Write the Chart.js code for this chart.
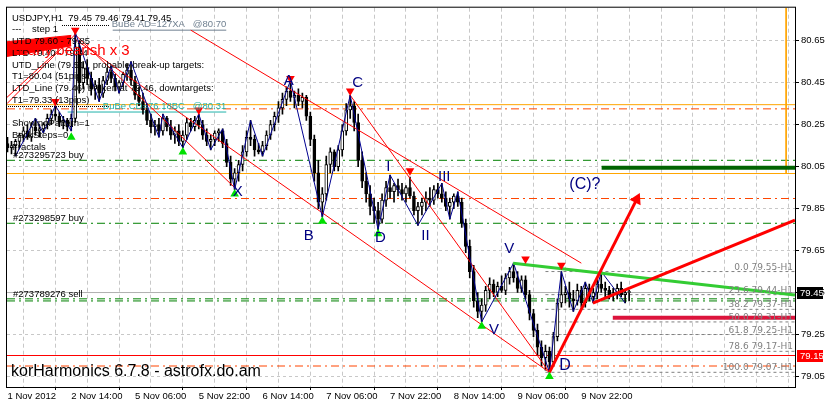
<!DOCTYPE html>
<html lang="en">
<head>
<meta charset="UTF-8">
<title>USDJPY H1</title>
<style>
  body { margin: 0; background: #fff; }
  #wrap { width: 837px; height: 407px; }
</style>
</head>
<body>
<div id="wrap"><canvas id="chart" width="837" height="407"></canvas></div>
<script src="https://cdn.jsdelivr.net/npm/chart.js@4.4.1/dist/chart.umd.min.js"></script>
<script>
// H1 bars, [open, high, low, close]
const candles = [
  [80.16,80.19,80.12,80.14],[80.14,80.17,80.11,80.15],[80.15,80.18,80.10,80.17],[80.17,80.21,80.14,80.20],
  [80.20,80.24,80.17,80.22],[80.22,80.25,80.18,80.19],[80.19,80.26,80.17,80.24],[80.24,80.28,80.20,80.22],
  [80.22,80.25,80.19,80.23],[80.23,80.26,80.21,80.25],[80.25,80.30,80.23,80.28],[80.28,80.32,80.25,80.30],
  [80.30,80.34,80.27,80.29],[80.29,80.31,80.24,80.26],[80.26,80.29,80.23,80.27],[80.27,80.28,80.22,80.24],
  [80.24,80.30,80.22,80.28],[80.28,80.69,80.26,80.62],[80.62,80.65,80.40,80.45],[80.45,80.55,80.42,80.52],
  [80.52,80.56,80.44,80.47],[80.47,80.50,80.39,80.42],[80.42,80.46,80.37,80.44],[80.44,80.47,80.36,80.40],
  [80.40,80.48,80.38,80.46],[80.46,80.52,80.44,80.50],[80.50,80.53,80.45,80.47],[80.47,80.49,80.41,80.43],
  [80.43,80.46,80.40,80.45],[80.45,80.50,80.43,80.49],[80.49,80.54,80.46,80.51],[80.51,80.55,80.44,80.46],
  [80.46,80.48,80.37,80.39],[80.39,80.43,80.34,80.36],[80.36,80.40,80.30,80.32],[80.32,80.35,80.25,80.27],
  [80.27,80.30,80.21,80.24],[80.24,80.27,80.20,80.25],[80.25,80.28,80.19,80.22],[80.22,80.30,80.20,80.28],
  [80.28,80.29,80.22,80.24],[80.24,80.27,80.18,80.20],[80.20,80.24,80.16,80.22],[80.22,80.25,80.15,80.17],
  [80.17,80.22,80.14,80.20],[80.20,80.28,80.18,80.26],[80.26,80.28,80.22,80.24],[80.24,80.29,80.22,80.27],
  [80.27,80.30,80.23,80.25],[80.25,80.27,80.18,80.20],[80.20,80.23,80.15,80.17],[80.17,80.20,80.13,80.18],
  [80.18,80.22,80.15,80.21],[80.21,80.23,80.17,80.22],[80.22,80.23,80.14,80.16],[80.16,80.18,80.05,80.07],
  [80.07,80.10,79.96,79.99],[79.99,80.04,79.94,80.02],[80.02,80.08,79.98,80.06],[80.06,80.15,80.03,80.12],
  [80.12,80.22,80.10,80.19],[80.19,80.27,80.15,80.18],[80.18,80.20,80.10,80.13],[80.13,80.16,80.11,80.12],
  [80.12,80.17,80.10,80.15],[80.15,80.22,80.13,80.20],[80.20,80.27,80.18,80.25],[80.25,80.31,80.22,80.29],
  [80.29,80.36,80.26,80.33],[80.33,80.40,80.30,80.37],[80.37,80.43,80.34,80.41],[80.41,80.46,80.36,80.38],
  [80.38,80.41,80.33,80.39],[80.39,80.42,80.34,80.36],[80.36,80.40,80.33,80.38],[80.38,80.39,80.27,80.29],
  [80.29,80.31,80.15,80.18],[80.18,80.20,79.98,80.02],[80.02,80.08,79.85,79.88],[79.88,79.95,79.81,79.92],
  [79.92,80.10,79.89,80.06],[80.06,80.14,80.02,80.12],[80.12,80.13,80.03,80.05],[80.05,80.15,80.03,80.13],
  [80.13,80.25,80.10,80.22],[80.22,80.35,80.20,80.32],[80.32,80.39,80.28,80.34],[80.34,80.36,80.22,80.26],
  [80.26,80.30,80.05,80.08],[80.08,80.12,79.95,79.98],[79.98,80.02,79.88,79.92],[79.92,79.96,79.82,79.86],
  [79.86,79.90,79.78,79.84],[79.84,79.88,79.75,79.80],[79.80,79.92,79.78,79.89],[79.89,79.98,79.86,79.95],
  [79.95,80.01,79.90,79.93],[79.93,79.97,79.88,79.96],[79.96,79.99,79.91,79.94],[79.94,79.97,79.89,79.92],
  [79.92,79.96,79.88,79.95],[79.95,80.00,79.90,79.91],[79.91,79.93,79.82,79.84],[79.84,79.88,79.77,79.86],
  [79.86,79.90,79.82,79.88],[79.88,79.93,79.84,79.90],[79.90,79.95,79.86,79.89],[79.89,79.96,79.87,79.94],
  [79.94,79.97,79.90,79.92],[79.92,79.97,79.88,79.90],[79.90,79.93,79.84,79.86],[79.86,79.90,79.80,79.88],
  [79.88,79.92,79.85,79.91],[79.91,79.93,79.86,79.88],[79.88,79.90,79.76,79.78],[79.78,79.80,79.64,79.67],
  [79.67,79.70,79.52,79.55],[79.55,79.58,79.38,79.41],[79.41,79.45,79.33,79.36],[79.36,79.42,79.31,79.39],
  [79.39,79.48,79.36,79.46],[79.46,79.52,79.42,79.49],[79.49,79.51,79.43,79.45],[79.45,79.50,79.43,79.48],
  [79.48,79.53,79.45,79.46],[79.46,79.54,79.44,79.52],[79.52,79.57,79.49,79.55],[79.55,79.59,79.50,79.52],
  [79.52,79.55,79.45,79.47],[79.47,79.53,79.45,79.51],[79.51,79.53,79.42,79.44],[79.44,79.46,79.32,79.35],
  [79.35,79.37,79.24,79.27],[79.27,79.30,79.15,79.19],[79.19,79.22,79.10,79.14],[79.14,79.20,79.08,79.17],
  [79.17,79.19,79.07,79.12],[79.12,79.26,79.10,79.24],[79.24,79.42,79.22,79.40],[79.40,79.55,79.38,79.44],
  [79.44,79.48,79.40,79.45],[79.45,79.50,79.38,79.42],[79.42,79.46,79.36,79.41],[79.41,79.49,79.39,79.46],
  [79.46,79.48,79.38,79.40],[79.40,79.50,79.38,79.47],[79.47,79.49,79.41,79.43],[79.43,79.47,79.40,79.45],
  [79.45,79.52,79.42,79.49],[79.49,79.55,79.45,79.47],[79.47,79.50,79.43,79.46],[79.46,79.48,79.42,79.44],
  [79.44,79.47,79.41,79.45],[79.45,79.49,79.42,79.47],[79.47,79.50,79.43,79.44],[79.44,79.46,79.40,79.45],
  [79.45,79.46,79.41,79.45]
];

// one label every 16 bars
const timeLabels = ['1 Nov 2012', '2 Nov 14:00', '5 Nov 06:00', '5 Nov 22:00', '6 Nov 14:00',
                    '7 Nov 06:00', '7 Nov 22:00', '8 Nov 14:00', '9 Nov 06:00', '9 Nov 22:00'];
const priceTicks = [79.05, 79.25, 79.45, 79.65, 79.85, 80.05, 80.25, 80.45, 80.65];

// zigzag pivots [bar, price]
const zigzag = [[2,80.10],[7,80.28],[9,80.21],[12,80.34],[16,80.22],[17,80.69],[23,80.36],[26,80.53],
  [28,80.40],[31,80.55],[38,80.19],[39,80.30],[44,80.14],[48,80.30],[51,80.13],[54,80.23],[57,79.94],
  [61,80.27],[64,80.10],[71,80.46],[79,79.81],[86,80.39],[93,79.75],[96,80.01],[103,79.77],[109,79.97],
  [111,79.80],[113,79.93],[119,79.31],[127,79.59],[136,79.07],[139,79.55],[142,79.36],[145,79.50],
  [147,79.40],[149,79.55],[155,79.40]];

// horizontal levels
const orangeLevels = [80.345, 80.017];
const redDashLevels = [80.325, 79.898, 79.10];
const greenDashLevels = [80.08, 79.78, 79.42, 79.41];
const fibNames = ['0.0', '23.6', '38.2', '50.0', '61.8', '78.6', '100.0'];
const fibLevels = [79.55, 79.44, 79.37, 79.31, 79.25, 79.17, 79.07];
const bidPrice = 79.45;
const stopPrice = 79.15;
const targetPrice = 80.044;
const t1Price = 79.33;
const orderTags = ['#273295723 buy', '#273298597 buy', '#273789276 sell'];
const orderLevels = [80.08, 79.78, 79.42];
const bubeTags = ['BuBe AD=127XA   @80.70', 'BuBe CD=76.18BC   @80.31'];
const bubeLevels = [80.70, 80.31];

// trend lines [bar, price]
const redLines = [
  [[46,80.70],[144,79.59]],
  [[86,80.39],[136,79.07]],
  [[17,80.656],[136,79.07]],
  [[17,80.678],[57,79.95]],
  [[-0.125,80.35],[17,80.68]],
  [[-0.125,80.38],[12.5,80.60]]
];
const redFanTop = [[-0.125,80.645],[16,80.675]];
const redFanBottom = [[-0.125,80.575],[16,80.625]];
const arrowLine = [[136,79.07],[157.9,79.894]];
const riseLine = [[146.9,79.40],[197.6,79.795]];
const greenTrend = [[126.9,79.59],[197.6,79.438]];
const redDown = [[12,80.36],[17,80.70],[48,80.32],[71,80.47],[86,80.41],[101,80.03],[130,79.61],[139,79.58]];
const greenUp = [[16,80.19],[44,80.12],[57,79.92],[79,79.79],[93,79.73],[119,79.29],[136,79.05]];

const waveLabels = [['A',70.6,80.46],['B',75.6,79.72],['C',87.9,80.45],['D',93.6,79.71],['X',57.8,79.93],
  ['I',95.6,80.05],['II',104.9,79.72],['III',109.6,80.00],['V',125.9,79.66],['V',122.1,79.27]];
const bigLabels = [['(C)?',144.9,79.965],['D',139.9,79.10]];

const last = candles[candles.length - 1];
const infoLines = [
  'USDJPY,H1  ' + last.map(v => v.toFixed(2)).join(' '),
  '---    step 1',
  'UTD 79.60 - 79.85',
  'LTD 79.40 - 79.34',
  'UTD_Line (79.51), probable break-up targets:',
  'T1=80.04 (51pips)',
  'LTD_Line (79.46) broken at 79.46, downtargets:',
  'T1=79.33 (13pips)',
  '',
  'ShowingPattern=1',
  'BackSteps=0',
  'Fractals'
];

const xMin = -0.125, xMax = 197.625;
const pts = arr => arr.map(([x, y]) => ({ x, y }));

function lineSet(points, color, width, dash, order, extra) {
  return Object.assign({
    type: 'line', data: pts(points), borderColor: color, borderWidth: width,
    borderDash: dash || [], pointRadius: 0, fill: false, tension: 0, order
  }, extra || {});
}
const hLine = (lvl, color, width, dash, order, from) =>
  lineSet([[from === undefined ? xMin : from, lvl], [xMax, lvl]], color, width, dash, order);

const dashDot = [8, 4, 2, 4];
const datasets = [];

// red fan block (top left)
datasets.push(lineSet(redFanBottom, '#ff0000', 1, [], 3, { fill: '+1', backgroundColor: '#ff0000' }));
datasets.push(lineSet(redFanTop, '#ff0000', 1, [], 3));

// markers
datasets.push(lineSet(redDown, '#ff0000', 0, [], 1, {
  showLine: false, pointRadius: 5, pointStyle: 'triangle', pointRotation: 180,
  pointBackgroundColor: '#ff0000', pointBorderColor: '#ff0000'
}));
datasets.push(lineSet(greenUp, '#00e000', 0, [], 1, {
  showLine: false, pointRadius: 5, pointStyle: 'triangle',
  pointBackgroundColor: '#00e000', pointBorderColor: '#00e000'
}));

// thick lines
datasets.push(lineSet(arrowLine, '#ff0000', 3, [], 1));
datasets.push(lineSet([arrowLine[1]], '#ff0000', 0, [], 1, {
  showLine: false, pointRadius: 7, pointStyle: 'triangle', pointRotation: 26.6,
  pointBackgroundColor: '#ff0000', pointBorderColor: '#ff0000'
}));
datasets.push(lineSet(riseLine, '#ff0000', 3, [], 1));
datasets.push(lineSet(greenTrend, '#33cc33', 3, [], 1));
datasets.push(hLine(targetPrice, '#006400', 4, [], 1, 149.1));
datasets.push(hLine(t1Price, '#dc143c', 4, [], 1, 151.9));

// zigzag and channels
datasets.push(lineSet(zigzag, '#000090', 1, [], 2));
redLines.forEach(l => datasets.push(lineSet(l, '#ff0000', 1, [], 2)));

// candles
datasets.push({
  type: 'bar', order: 4, grouped: false, barThickness: 3, minBarLength: 1,
  data: candles.map((c, i) => ({ x: i, y: [c[0], c[3]] })),
  backgroundColor: candles.map(c => c[3] >= c[0] ? '#ffffff' : '#000000'),
  borderColor: '#000000', borderWidth: 1, borderSkipped: false
});
datasets.push({
  type: 'bar', order: 5, grouped: false, barThickness: 1,
  data: candles.map((c, i) => ({ x: i, y: [c[2], c[1]] })),
  backgroundColor: '#000000', borderWidth: 0
});

// horizontal levels (behind candles)
orangeLevels.forEach(l => datasets.push(hLine(l, '#ffa500', 1, [], 8)));
datasets.push(lineSet([[195.4, 80.807], [195.4, orangeLevels[1]]], '#ffa500', 1, [], 8));
redDashLevels.forEach(l => datasets.push(hLine(l, '#ff4500', 1, dashDot, 8)));
greenDashLevels.forEach(l => datasets.push(hLine(l, '#008000', 1, dashDot, 8)));
fibLevels.forEach(l => datasets.push(hLine(l, '#808080', 1, [3, 3], 8, 135)));
datasets.push(hLine(bidPrice, '#b0b0b0', 1, [], 9));
datasets.push(hLine(stopPrice, '#ff0000', 1, [], 8));
datasets.push(lineSet([[26.4, bubeLevels[0]], [54.9, bubeLevels[0]]], '#708090', 1, [], 8));
datasets.push(lineSet([[15.1, bubeLevels[1]], [54.9, bubeLevels[1]]], '#20b2aa', 1, [], 8));

const annotations = {
  id: 'annotations',
  afterDatasetsDraw(chart) {
    const { ctx, chartArea: a, scales: { x, y } } = chart;
    ctx.save();
    ctx.beginPath();
    ctx.rect(a.left, a.top, a.right - a.left, a.bottom - a.top);
    ctx.clip();

    // info block
    ctx.fillStyle = '#000';
    ctx.font = '9.5px "Liberation Sans"';
    ctx.textAlign = 'left';
    ctx.textBaseline = 'alphabetic';
    infoLines.forEach((t, k) => ctx.fillText(t, a.left + 5, a.top + 13 + k * 11.75));
    ctx.strokeStyle = '#000';
    ctx.lineWidth = 1;
    ctx.setLineDash([1, 1]);
    ctx.beginPath();
    ctx.moveTo(62, 25.5); ctx.lineTo(110, 25.5);
    ctx.moveTo(a.left + 1, 106.5); ctx.lineTo(110, 106.5);
    ctx.stroke();
    ctx.setLineDash([]);

    ctx.fillStyle = '#ff0000';
    ctx.font = '15px "Liberation Sans"';
    ctx.fillText('Early bearish x 3', a.left + 11, a.top + 47);

    // order tags
    ctx.fillStyle = '#000';
    ctx.font = '9.5px "Liberation Sans"';
    orderTags.forEach((t, k) => ctx.fillText(t, a.left + 6, y.getPixelForValue(orderLevels[k]) - 2));

    // BuBe tags
    ctx.textAlign = 'right';
    ctx.fillStyle = '#708090';
    ctx.fillText(bubeTags[0], x.getPixelForValue(54.9), y.getPixelForValue(bubeLevels[0]) - 3);
    ctx.fillStyle = '#20b2aa';
    ctx.fillText(bubeTags[1], x.getPixelForValue(54.9), y.getPixelForValue(bubeLevels[1]) - 3);

    // fib labels
    ctx.fillStyle = '#808080';
    ctx.font = '9px "DejaVu Sans"';
    fibLevels.forEach((l, k) =>
      ctx.fillText(fibNames[k] + ' ' + l.toFixed(2) + '-H1', a.right - 2, y.getPixelForValue(l) - 2));

    // wave labels
    ctx.textAlign = 'center';
    ctx.textBaseline = 'middle';
    ctx.fillStyle = '#000080';
    ctx.font = '15px "Liberation Sans"';
    waveLabels.forEach(([t, i, p]) => ctx.fillText(t, x.getPixelForValue(i), y.getPixelForValue(p)));
    ctx.font = '16px "Liberation Sans"';
    bigLabels.forEach(([t, i, p]) => ctx.fillText(t, x.getPixelForValue(i), y.getPixelForValue(p)));

    // footer
    ctx.textAlign = 'left';
    ctx.textBaseline = 'alphabetic';
    ctx.fillStyle = '#000';
    ctx.font = '16px "Liberation Sans"';
    ctx.fillText('korHarmonics 6.7.8 - astrofx.do.am', a.left + 4, a.bottom - 11);
    ctx.restore();

    // frame
    ctx.save();
    ctx.strokeStyle = '#000';
    ctx.lineWidth = 1;
    ctx.strokeRect(a.left - 0.5, a.top - 0.5, a.right - a.left + 1, a.bottom - a.top + 1);
    ctx.restore();
  },
  afterDraw(chart) {
    const { ctx, chartArea: a, scales: { y } } = chart;
    ctx.save();
    ctx.font = '9.5px "Liberation Sans"';
    ctx.textAlign = 'left';
    ctx.textBaseline = 'middle';
    [[bidPrice, '#000'], [stopPrice, '#ff0000']].forEach(([p, c]) => {
      const py = Math.round(y.getPixelForValue(p));
      ctx.fillStyle = c;
      ctx.fillRect(a.right + 2, py - 6, 26, 12);
      ctx.fillStyle = '#fff';
      ctx.fillText(p.toFixed(2), a.right + 5, py);
    });
    ctx.restore();
  }
};

Chart.defaults.font.family = '"Liberation Sans", sans-serif';

new Chart(document.getElementById('chart'), {
  type: 'bar',
  data: { datasets },
  options: {
    responsive: false,
    animation: false,
    events: [],
    layout: { padding: { left: 4, top: 3, right: 0, bottom: 0 } },
    plugins: { legend: { display: false }, tooltip: { enabled: false } },
    scales: {
      x: {
        type: 'linear', min: xMin, max: xMax, offset: false,
        afterFit: s => { s.height = 20; },
        afterBuildTicks: s => {
          const t = [];
          for (let v = 0; v <= 192; v += 8) t.push({ value: v });
          s.ticks = t;
        },
        ticks: {
          autoSkip: false, maxRotation: 0, align: 'start', padding: 1,
          color: '#000', font: { size: 9.5 },
          callback: v => (v % 16 === 0 && v / 16 < timeLabels.length) ? timeLabels[v / 16] : ''
        },
        grid: {
          color: '#c8c8c8', tickLength: 3,
          tickColor: c => (c.tick && c.tick.value % 16 === 0 && c.tick.value <= 144) ? '#000' : 'rgba(0,0,0,0)'
        },
        border: { display: false, dash: [4, 3] }
      },
      y: {
        type: 'linear', position: 'right', min: 79.0, max: 80.807,
        afterFit: s => { s.width = 42; },
        afterBuildTicks: s => { s.ticks = priceTicks.map(v => ({ value: v })); },
        ticks: { color: '#000', padding: 2, font: { size: 9.5 }, callback: v => v.toFixed(2) },
        grid: { color: '#c8c8c8', tickLength: 4, tickColor: '#000' },
        border: { display: false, dash: [3, 3] }
      }
    }
  },
  plugins: [annotations]
});
</script>
</body>
</html>
